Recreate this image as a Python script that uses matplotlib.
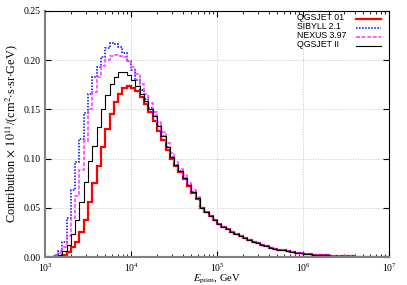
import numpy as np
import matplotlib
matplotlib.use("Agg")
import matplotlib.pyplot as plt
from matplotlib.ticker import LogLocator, FixedLocator, FormatStrFormatter

plt.rcParams["mathtext.fontset"] = "stix"

# log10(E/GeV) range and bins per decade
log_min, log_max, bins_per_decade = 3, 7, 20

labels = ["QGSJET 01", "SIBYLL 2.1", "NEXUS 3.97", "QGSJET II"]

common_tail = [0.0500, 0.0460, 0.0420, 0.0375, 0.0340, 0.0310, 0.0282, 0.0258, 0.0235, 0.0212,
               0.0192, 0.0173, 0.0156, 0.0141, 0.0126, 0.0112, 0.0099, 0.0088, 0.0078, 0.0069,
               0.0061, 0.0054, 0.0047, 0.0042, 0.0037, 0.0032, 0.0028, 0.0025, 0.0022, 0.0019,
               0.0017, 0.0015, 0.0013, 0.0011, 0.0010, 0.0009, 0.0008, 0.0007, 0.0006, 0.0005,
               0.0005, 0.0004, 0.0004, 0.0003]

qgsjet01 = [0, 0, 0.0005, 0.001, 0.002, 0.005, 0.010, 0.016, 0.026, 0.038,
            0.056, 0.075, 0.093, 0.112, 0.130, 0.145, 0.157, 0.166, 0.172, 0.174,
            0.172, 0.169, 0.162, 0.155, 0.147, 0.138, 0.128, 0.119, 0.109, 0.100,
            0.093, 0.086, 0.079, 0.072, 0.065, 0.059] + common_tail
sibyll = [0, 0, 0.002, 0.006, 0.016, 0.040, 0.068, 0.097, 0.120, 0.146,
          0.166, 0.183, 0.193, 0.203, 0.212, 0.217, 0.216, 0.213, 0.207, 0.199,
          0.190, 0.180, 0.170, 0.160, 0.151, 0.143, 0.133, 0.123, 0.112, 0.102,
          0.094, 0.087, 0.080, 0.073, 0.066, 0.060] + common_tail
nexus = [0, 0, 0.001, 0.004, 0.010, 0.022, 0.040, 0.062, 0.088, 0.118,
         0.150, 0.168, 0.183, 0.194, 0.200, 0.204, 0.205, 0.204, 0.203, 0.199,
         0.193, 0.186, 0.176, 0.166, 0.156, 0.147, 0.137, 0.127, 0.116, 0.106,
         0.097, 0.090, 0.083, 0.075, 0.068, 0.061] + common_tail
qgsjet2 = [0, 0, 0.001, 0.002, 0.006, 0.012, 0.024, 0.038, 0.056, 0.076,
           0.098, 0.113, 0.132, 0.150, 0.165, 0.176, 0.183, 0.188, 0.188, 0.185,
           0.180, 0.174, 0.166, 0.158, 0.150, 0.143, 0.133, 0.123, 0.112, 0.102,
           0.094, 0.087, 0.080, 0.073, 0.066, 0.060] + common_tail

series = [qgsjet01, sibyll, nexus, qgsjet2]
colors = ["#ff0000", "#0000ff", "#ff33ff", "#000000"]
styles = ["-", (0, (1, 1)), (0, (2.5, 1.2)), "-"]
widths = [1.6, 1.1, 1.1, 0.8]

edges = np.logspace(log_min, log_max, (log_max - log_min) * bins_per_decade + 1)

fig = plt.figure(figsize=(4.07, 2.85), dpi=100)
ax = fig.add_axes([0.1106, 0.0972, 0.8459, 0.8653])

for vals, c, ls, lw in zip(series, colors, styles, widths):
    ax.stairs(vals, edges, color=c, linestyle=ls, linewidth=lw, baseline=None)

ax.set_xscale("log")
ax.set_xlim(1e3, 1e7)
ax.set_ylim(0, 0.25)
ax.yaxis.set_major_locator(FixedLocator([0, 0.05, 0.10, 0.15, 0.20, 0.25]))
ax.yaxis.set_major_formatter(FormatStrFormatter("%.2f"))
ax.xaxis.set_major_locator(LogLocator(base=10, numticks=10))
ax.xaxis.set_minor_locator(LogLocator(base=10, subs=np.arange(2, 10), numticks=20))

serif = ["Liberation Serif", "DejaVu Serif"]
for lab in ax.get_xticklabels() + ax.get_yticklabels():
    lab.set_fontfamily(serif)
    lab.set_fontsize(7)

ax.tick_params(which="both", direction="in", top=True, right=True)
ax.tick_params(which="major", length=4, width=0.8, pad=3)
ax.tick_params(which="minor", length=2, width=0.6)

ax.grid(True, which="major", color="#c0c0c0", linestyle=(0, (1.2, 1.8)), linewidth=0.6)
ax.set_axisbelow(True)

for side in ["left", "bottom"]:
    ax.spines[side].set_color("#808080")
    ax.spines[side].set_linewidth(1.5)
for side in ["top", "right"]:
    ax.spines[side].set_color("#000000")
    ax.spines[side].set_linewidth(0.8)

ax.set_ylabel(r"Contribution$\,\times\,10^{11}$/(cm$^2$$\cdot$s$\cdot$sr$\cdot$GeV)",
              fontfamily=serif, fontsize=8.8, labelpad=3)
ax.set_xlabel(r"$E_{\rm prim}$, GeV", fontfamily=serif, fontsize=7.6, labelpad=-0.8)

# legend: labels left-aligned, line samples on the right
row_y = [0.972, 0.936, 0.900, 0.864]
for lab, c, ls, lw, yy in zip(labels, colors, styles, widths, row_y):
    ax.text(0.731, yy, lab, transform=ax.transAxes, ha="left", va="center",
            fontfamily=["Liberation Sans", "DejaVu Sans"], fontsize=6.3)
    ax.plot([0.903, 0.976], [yy - 0.006, yy - 0.006], transform=ax.transAxes,
            color=c, linestyle=ls, linewidth=lw, clip_on=False)

fig.savefig("out.png", dpi=100)
